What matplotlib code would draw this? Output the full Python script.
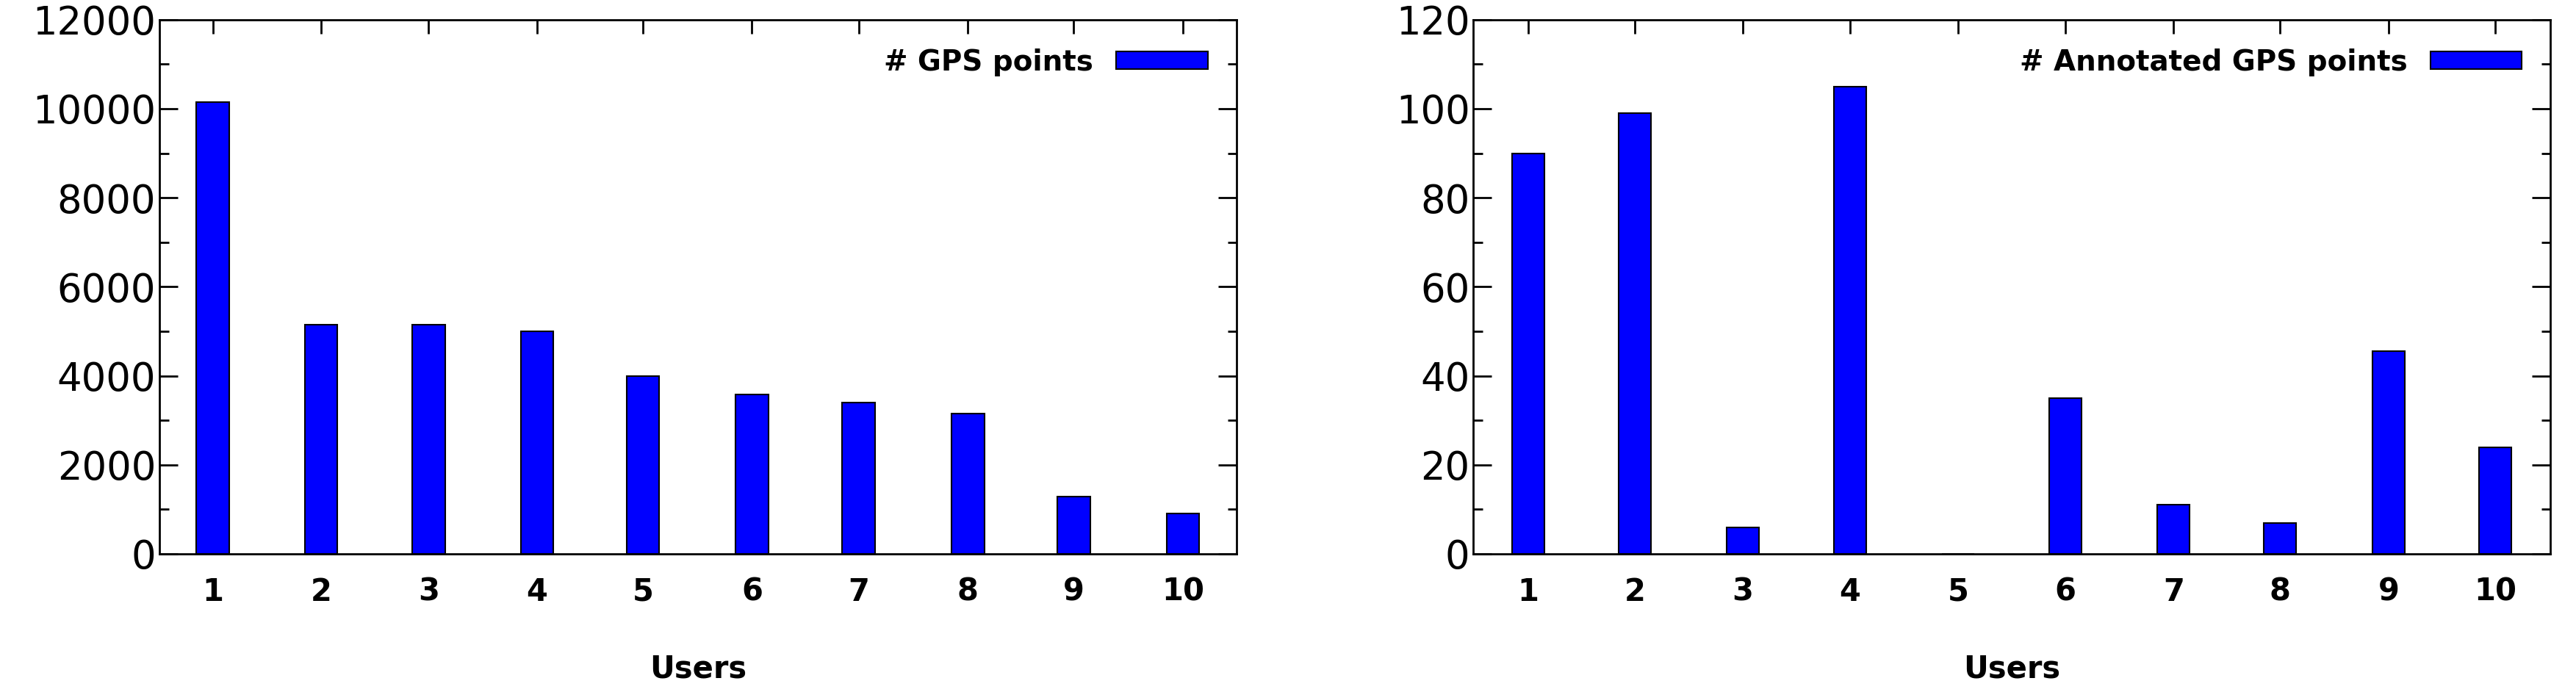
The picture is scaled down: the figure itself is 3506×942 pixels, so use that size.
import matplotlib
matplotlib.use('Agg')
from matplotlib import pyplot as plt

plt.rcParams['font.family'] = ['Liberation Sans Narrow', 'DejaVu Sans']

users = ['1', '2', '3', '4', '5', '6', '7', '8', '9', '10']
# bar centres in axis units (gnuplot placed them slightly unevenly)
pos_left = [65, 197, 328, 460, 589, 722, 852, 985, 1114, 1247]
pos_right = [68, 200, 334, 467, 601, 734, 868, 1000, 1135, 1267]
gps_points = [10150, 5150, 5150, 5000, 4000, 3580, 3400, 3150, 1280, 900]
annotated_points = [90, 99, 6, 105, 0, 35, 11, 7, 45.5, 24]


def draw_panel(ax, pos, values, width_axis, ymax, ystep, label):
    ax.bar(pos, values, width=40, color='#0000ff', edgecolor='black',
           linewidth=1.5, label=label)
    ax.set_xlim(0, width_axis)
    ax.set_ylim(0, ymax)
    ax.set_xticks(pos)
    ax.set_xticklabels(users, fontweight='bold', fontsize=30)
    ax.set_yticks(range(0, ymax + 1, ystep))
    ax.set_yticks(range(ystep // 2, ymax, ystep), minor=True)
    ax.tick_params(axis='y', which='both', direction='in', right=True,
                   labelsize=38, width=2)
    ax.tick_params(axis='y', which='major', length=18)
    ax.tick_params(axis='y', which='minor', length=9)
    ax.tick_params(axis='x', direction='in', top=True, bottom=False,
                   length=14, width=2, pad=22)
    for s in ax.spines.values():
        s.set_linewidth(2)
    ax.set_xlabel('Users', fontweight='bold', fontsize=30, labelpad=45)
    ax.legend(loc='upper right', frameon=False, markerfirst=False,
              fontsize=28, prop={'weight': 'bold', 'size': 28},
              handlelength=3.2, handleheight=0.6, borderaxespad=0.6)


fig = plt.figure(figsize=(35.06, 9.42), dpi=100)
ax1 = fig.add_axes([0.0619, 0.1996, 0.418, 0.772])
ax2 = fig.add_axes([0.572, 0.1996, 0.418, 0.772])

draw_panel(ax1, pos_left, gps_points, 1312, 12000, 2000, '# GPS points')
draw_panel(ax2, pos_right, annotated_points, 1335, 120, 20,
           '# Annotated GPS points')

fig.savefig('out.png', dpi=100)
